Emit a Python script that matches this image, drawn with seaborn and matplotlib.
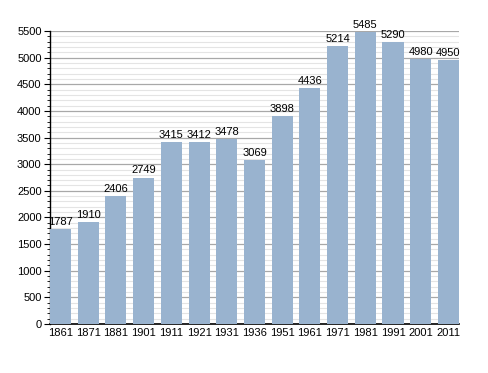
import matplotlib
matplotlib.use("Agg")
import matplotlib.pyplot as plt
import seaborn as sns
import numpy as np
import pandas as pd
from matplotlib.ticker import MultipleLocator

years = ["1861", "1871", "1881", "1901", "1911", "1921", "1931", "1936",
         "1951", "1961", "1971", "1981", "1991", "2001", "2011"]
population = [1787, 1910, 2406, 2749, 3415, 3412, 3478, 3069,
              3898, 4436, 5214, 5485, 5290, 4980, 4950]

df = pd.DataFrame({"year": years, "pop": population})

sns.set_style("white")
plt.rcParams['font.family'] = ['Liberation Sans', 'DejaVu Sans']
plt.rcParams['text.color'] = 'black'
plt.rcParams['xtick.color'] = 'black'
plt.rcParams['ytick.color'] = 'black'

fig = plt.figure(figsize=(4.88, 3.73), dpi=100)
ax = fig.add_axes([0.1025, 0.1314, 0.838, 0.7855])

sns.barplot(data=df, x="year", y="pop", color="#99B3CF", saturation=1,
            width=0.76, linewidth=0, edgecolor="none", ax=ax, zorder=3)

# value labels above each bar
for i, v in enumerate(population):
    ax.text(i, v + 40, str(v), ha="center", va="bottom", fontsize=8,
            color="black", zorder=5)

ax.set_ylim(0, 5500)
ax.set_xlim(-0.38, 14.38)
ax.yaxis.set_major_locator(MultipleLocator(500))
ax.yaxis.set_minor_locator(MultipleLocator(100))
ax.grid(which="major", axis="y", color="#a8a8a8", linewidth=0.9, zorder=0)
ax.grid(which="minor", axis="y", color="#e4e4e4", linewidth=0.8, zorder=0)
ax.set_axisbelow(True)

for s in ["top", "right"]:
    ax.spines[s].set_visible(False)
ax.spines["left"].set_color("black")
ax.spines["bottom"].set_color("black")
ax.spines["left"].set_linewidth(1.0)
ax.spines["bottom"].set_linewidth(1.2)

ax.tick_params(axis="y", which="major", direction="out", length=4, width=0.8,
               labelsize=8, left=True, pad=2, colors="black")
ax.tick_params(axis="y", which="minor", direction="out", length=2, width=0.6,
               left=True, colors="black")
ax.tick_params(axis="x", length=0, labelsize=8, pad=3, colors="black")

ax.set_xlabel("")
ax.set_ylabel("")

plt.savefig("out.png", dpi=100)
